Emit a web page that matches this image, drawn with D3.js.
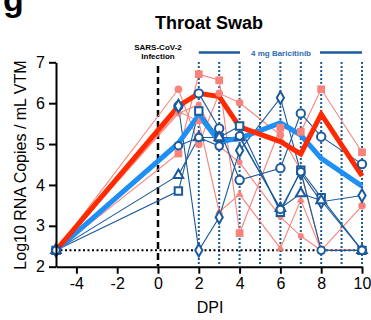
<!DOCTYPE html>
<html>
<head>
<meta charset="utf-8">
<script src="https://d3js.org/d3.v7.min.js"></script>
<style>
  body { margin: 0; background: #fff; }
  text { font-family: "Liberation Sans", Arial, sans-serif; }
</style>
</head>
<body>
<script>
// days post infection
var days = [-5, 1, 2, 3, 4, 6, 7, 8, 10];
var treatDays = [2, 3, 4, 5, 6, 7, 8, 9, 10];
var xTicks = [-4, -2, 0, 2, 4, 6, 8, 10];
var yTicks = [2, 3, 4, 5, 6, 7];
var lod = 2.4;

// group means
var meanRed = [2.4, 5.93, 6.24, 6.16, 5.42, 5.06, 4.76, 5.73, 4.22];
var meanBlue = [2.4, 5.02, 5.71, 5.06, 5.14, 5.52, 5.22, 4.65, 3.97];

// individual animals, untreated (pink)
var pinkSquare = [2.4, 4.77, 6.71, 6.56, 2.82, 5.40, 5.30, 6.34, 4.80];
var pinkCircle = [2.4, 6.34, 4.99, 6.24, 6.01, 5.22, 4.36, 2.4, 3.49];
var pinkTriangle = [2.4, 5.80, 5.55, 3.34, 3.77, 2.45, 3.63, 2.4, 2.4];
var pinkDot = [2.4, 5.75, 5.97, 4.95, 4.55, 3.22, 2.75, 2.4, 2.4];

// individual animals, baricitinib (dark blue)
var blueCircle = [2.4, 5.93, 6.24, 5.38, 4.12, 4.41, 5.75, 5.18, 4.51];
var blueDiamond = [2.4, 5.93, 2.4, 3.21, 4.84, 6.13, 4.30, 3.59, 3.74];
var blueSquare = [2.4, 3.85, 5.81, 5.16, 5.44, 3.33, 4.36, 3.69, 2.4];
var blueTriangle = [2.4, 4.24, 5.16, 5.16, 5.16, 3.43, 3.79, 3.62, 2.4];
var blueRing = [2.4, 4.96, 5.16, 4.95, 5.20, 3.40, 4.32, 2.4, 2.4];

var width = 371, height = 320;
var pink = "#f7837b", dark = "#1b5a9c";

var svg = d3.select("body").append("svg")
    .attr("width", width)
    .attr("height", height);

var x = d3.scaleLinear().domain([-5, 10]).range([56, 362]);
var y = d3.scaleLinear().domain([2, 7]).range([266.7, 62.3]);

// panel letter and title
svg.append("text").attr("x", 3).attr("y", 11)
    .style("font-size", "34px").style("font-weight", "bold").text("g");
svg.append("text").attr("x", 209).attr("y", 29).attr("text-anchor", "middle")
    .style("font-size", "18px").style("font-weight", "bold").text("Throat Swab");

// annotations
svg.append("text").attr("x", x(0)).attr("y", 50).attr("text-anchor", "middle")
    .style("font-size", "8px").style("font-weight", "bold").text("SARS-CoV-2");
svg.append("text").attr("x", x(0)).attr("y", 59).attr("text-anchor", "middle")
    .style("font-size", "8px").style("font-weight", "bold").text("Infection");

svg.append("line").attr("x1", x(2)).attr("x2", 240).attr("y1", 52.5).attr("y2", 52.5)
    .style("stroke", dark).style("stroke-width", 2.5);
svg.append("line").attr("x1", 320).attr("x2", x(10)).attr("y1", 52.5).attr("y2", 52.5)
    .style("stroke", dark).style("stroke-width", 2.5);
svg.append("text").attr("x", 281).attr("y", 55.5).attr("text-anchor", "middle")
    .style("font-size", "8px").style("font-weight", "bold").style("fill", "#2a6bb0")
    .text("4 mg Baricitinib");

// treatment day guides
svg.selectAll(".treat")
    .data(treatDays)
    .enter().append("line")
    .attr("class", "treat")
    .attr("x1", function(d) { return x(d); })
    .attr("x2", function(d) { return x(d); })
    .attr("y1", 62).attr("y2", 266)
    .style("stroke", dark).style("stroke-width", 2)
    .style("stroke-dasharray", "2,2");

// limit of detection
svg.append("line").attr("x1", x(-5)).attr("x2", x(10)).attr("y1", y(lod)).attr("y2", y(lod))
    .style("stroke", "#000").style("stroke-width", 2).style("stroke-dasharray", "2,2.5");

// infection
svg.append("line").attr("x1", x(0)).attr("x2", x(0)).attr("y1", 66).attr("y2", 266)
    .style("stroke", "#000").style("stroke-width", 2.5).style("stroke-dasharray", "7,4");

var line = d3.line()
    .x(function(d, i) { return x(days[i]); })
    .y(function(d) { return y(d); });

var pinkSeries = [
    { v: pinkSquare, sym: d3.symbolSquare, size: 60 },
    { v: pinkCircle, sym: d3.symbolCircle, size: 45 },
    { v: pinkTriangle, sym: d3.symbolTriangle, size: 28 },
    { v: pinkDot, sym: d3.symbolCircle, size: 28 }
];
var blueSeries = [
    { v: blueCircle, sym: d3.symbolCircle, size: 55 },
    { v: blueDiamond, sym: d3.symbolDiamond, size: 45 },
    { v: blueSquare, sym: d3.symbolSquare, size: 55 },
    { v: blueTriangle, sym: d3.symbolTriangle, size: 40 },
    { v: blueRing, sym: d3.symbolCircle, size: 45 }
];

svg.selectAll(".pline")
    .data(pinkSeries)
    .enter().append("path")
    .attr("class", "pline")
    .attr("d", function(d) { return line(d.v); })
    .style("fill", "none").style("stroke", pink).style("stroke-width", 1.1);

svg.selectAll(".bline")
    .data(blueSeries)
    .enter().append("path")
    .attr("class", "bline")
    .attr("d", function(d) { return line(d.v); })
    .style("fill", "none").style("stroke", dark).style("stroke-width", 1.1);

svg.append("path").attr("d", line(meanBlue))
    .style("fill", "none").style("stroke", "#1e8ff5").style("stroke-width", 5)
    .style("stroke-linejoin", "miter");
svg.append("path").attr("d", line(meanRed))
    .style("fill", "none").style("stroke", "#ff2a00").style("stroke-width", 5)
    .style("stroke-linejoin", "miter");

// markers
pinkSeries.forEach(function(s) {
    svg.selectAll(null)
        .data(s.v)
        .enter().append("path")
        .attr("transform", function(d, i) { return "translate(" + x(days[i]) + "," + y(d) + ")"; })
        .attr("d", d3.symbol().type(s.sym).size(s.size))
        .style("fill", pink);
});
blueSeries.forEach(function(s) {
    svg.selectAll(null)
        .data(s.v)
        .enter().append("path")
        .attr("transform", function(d, i) { return "translate(" + x(days[i]) + "," + y(d) + ")"; })
        .attr("d", d3.symbol().type(s.sym).size(s.size))
        .style("fill", "#fff").style("stroke", dark).style("stroke-width", 2);
});

// axes
var xAxis = svg.append("g")
    .attr("transform", "translate(0,266.7)")
    .call(d3.axisBottom(x).tickValues(xTicks).tickSize(7).tickSizeOuter(0).tickPadding(4)
        .tickFormat(function(d) { return String(d); }));
var yAxis = svg.append("g")
    .attr("transform", "translate(56,0)")
    .call(d3.axisLeft(y).tickValues(yTicks).tickSize(7).tickSizeOuter(0).tickPadding(4)
        .tickFormat(function(d) { return String(d); }));

[xAxis, yAxis].forEach(function(a) {
    a.selectAll("path, line").style("stroke", "#000").style("stroke-width", 2);
    a.selectAll("text").style("font-size", "16px").style("fill", "#000")
        .style("font-family", "'Liberation Sans', Arial, sans-serif");
});

svg.append("text").attr("x", 210).attr("y", 313).attr("text-anchor", "middle")
    .style("font-size", "16px").text("DPI");
svg.append("text")
    .attr("transform", "translate(26,165) rotate(-90)")
    .attr("text-anchor", "middle")
    .style("font-size", "16px").text("Log10 RNA Copies / mL VTM");
</script>
</body>
</html>
